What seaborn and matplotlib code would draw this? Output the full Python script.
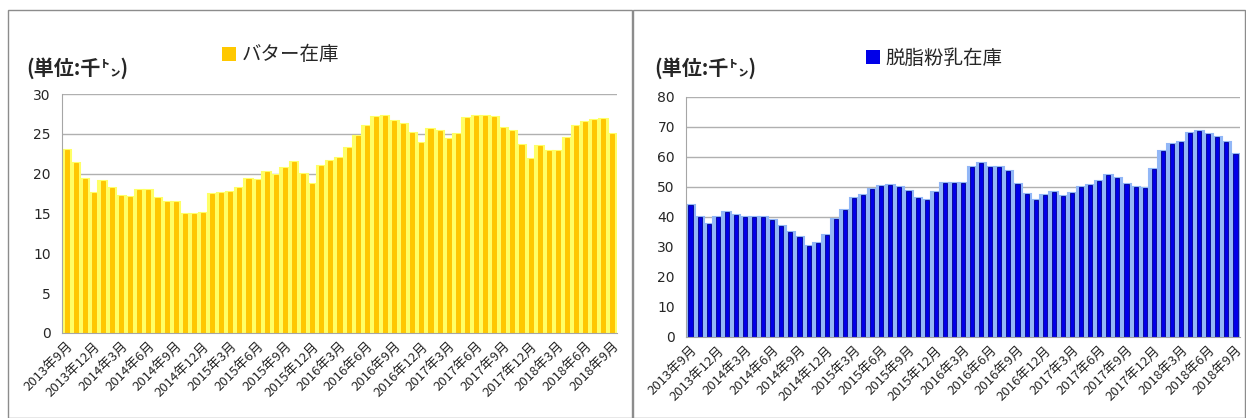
# -*- coding: utf-8 -*-
import matplotlib
matplotlib.use('Agg')
import matplotlib.pyplot as plt
from matplotlib.patches import Patch, Rectangle
import seaborn as sns
import pandas as pd

# ==================== データ ====================
# 2013年9月〜2018年9月（月次、61か月）
months = [f'{y}年{m}月' for y in range(2013, 2019) for m in range(1, 13)]
months = months[months.index('2013年9月'):months.index('2018年9月') + 1]

# バター在庫（千トン）
butter = [23.0, 21.4, 19.3, 17.6, 19.1, 18.2, 17.25, 17.1, 17.9, 18.0,
          17.0, 16.4, 16.4, 15.0, 15.0, 15.1, 17.4, 17.6, 17.75, 18.2,
          19.3, 19.2, 20.2, 19.8, 20.75, 21.5, 20.0, 18.75, 21.0, 21.6,
          22.0, 23.2, 24.7, 26.0, 27.1, 27.2, 26.6, 26.2, 25.1, 23.9,
          25.6, 25.3, 24.4, 25.0, 27.0, 27.3, 27.2, 27.1, 25.75, 25.4,
          23.6, 21.8, 23.5, 22.8, 22.8, 24.5, 26.0, 26.5, 26.75, 26.8, 25.0]

# 脱脂粉乳在庫（千トン）
skim_milk = [44.1, 40.1, 37.8, 40.1, 41.8, 40.8, 40.1, 39.9, 39.9, 39.1,
             36.9, 35.0, 33.4, 30.3, 31.2, 34.1, 39.3, 42.2, 46.3, 47.4,
             49.3, 50.2, 50.7, 50.0, 48.7, 46.3, 45.6, 48.4, 51.2, 51.5,
             51.3, 56.8, 58.1, 56.6, 56.7, 55.4, 51.1, 47.8, 45.7, 47.4,
             48.3, 47.1, 48.0, 50.1, 50.6, 52.0, 54.1, 52.9, 51.1, 50.0,
             49.7, 56.0, 61.9, 64.2, 65.0, 68.1, 68.8, 67.8, 66.7, 65.1, 61.0]

# 表示する目盛ラベル（3か月ごと）
tick_labels = months[::3]
# ================================================

df = pd.DataFrame({'month': months, 'butter': butter, 'skim': skim_milk})

sns.set_style('white')
plt.rcParams['font.family'] = ['Noto Sans CJK JP', 'DejaVu Sans']

W, H = 1246, 418
fig = plt.figure(figsize=(W / 100, H / 100), dpi=100)


def fx(px):
    return px / W


def fy(py):
    return 1 - py / H


# パネルの枠
fig.patches.append(Rectangle((fx(8), 0), fx(632) - fx(8), fy(10), transform=fig.transFigure,
                             fill=False, edgecolor='#8c8c8c', linewidth=1))
fig.patches.append(Rectangle((fx(633), 0), fx(1245) - fx(633), fy(10), transform=fig.transFigure,
                             fill=False, edgecolor='#8c8c8c', linewidth=1))

panels = [
    dict(col='butter', rect=(62, 94, 617, 333), ymax=30, step=5,
         glow='#FFFF66', core='#FFC800', edge='#FFC000', name='バター在庫',
         unit_x=26, legend_x=222, legend_y=55),
    dict(col='skim', rect=(686, 97, 1240, 337), ymax=80, step=10,
         glow='#92B7F7', core='#0000E8', edge='#000090', name='脱脂粉乳在庫',
         unit_x=654, legend_x=866, legend_y=58),
]

for p in panels:
    x0, y0, x1, y1 = p['rect']
    ax = fig.add_axes([fx(x0), fy(y1), fx(x1) - fx(x0), fy(y0) - fy(y1)])

    # 光彩部分（太いバー）と本体（細いバー）
    sns.barplot(data=df, x='month', y=p['col'], color=p['glow'], saturation=1,
                width=0.98, edgecolor=p['glow'], linewidth=1.5, ax=ax)
    sns.barplot(data=df, x='month', y=p['col'], color=p['core'], saturation=1,
                width=0.45, edgecolor=p['edge'], linewidth=0.6, ax=ax)

    ax.set_xlim(-0.5, len(months) - 0.5)
    ax.set_ylim(0, p['ymax'])
    ax.set_yticks(range(0, p['ymax'] + 1, p['step']))
    ax.set_yticklabels([str(v) for v in range(0, p['ymax'] + 1, p['step'])],
                       fontsize=10, family='DejaVu Sans')
    ax.yaxis.grid(True, color='#b0b0b0', linewidth=1)
    ax.set_axisbelow(True)

    ax.set_xticks(range(0, len(months), 3))
    ax.set_xticklabels(tick_labels, rotation=45, ha='right', rotation_mode='anchor', fontsize=9.5)
    ax.set_xticks([i - 0.5 for i in range(3, len(months), 3)], minor=True)
    ax.tick_params(axis='x', which='major', length=0, pad=5)
    ax.tick_params(axis='x', which='minor', length=3, direction='in', color='#999999')
    ax.tick_params(axis='y', length=0, pad=8)
    ax.set_xlabel('')
    ax.set_ylabel('')

    for side in ['top', 'right']:
        ax.spines[side].set_visible(False)
    for side in ['left', 'bottom']:
        ax.spines[side].set_color('#a6a6a6')

    fig.text(fx(p['unit_x']), fy(68), '(単位:千㌧)', fontsize=14.5, fontweight='bold',
             va='center', ha='left')
    ax.legend(handles=[Patch(facecolor=p['core'], edgecolor='none', label=p['name'])],
              loc='center left', bbox_to_anchor=(fx(p['legend_x']), fy(p['legend_y'])),
              bbox_transform=fig.transFigure, frameon=False, fontsize=14,
              handlelength=0.7, handleheight=0.7, handletextpad=0.3, borderaxespad=0,
              borderpad=0)

plt.savefig('out.png', dpi=100)
plt.close()
